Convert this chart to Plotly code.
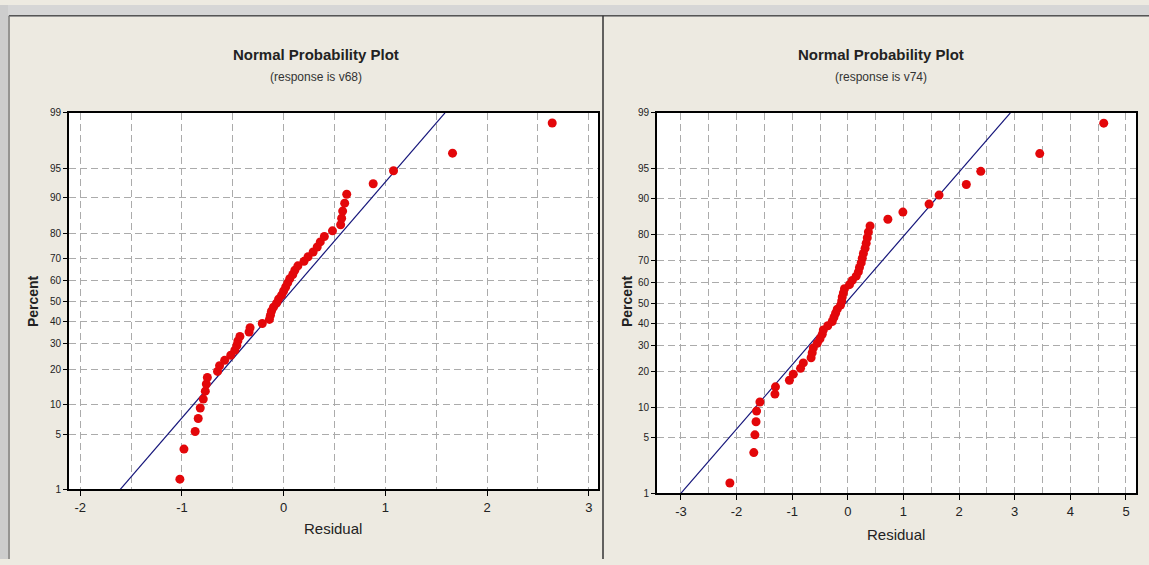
from statistics import NormalDist
import plotly.graph_objects as go

# ---------------- data ----------------
resid_v68 = [-1.02, -0.98, -0.87, -0.84, -0.82, -0.79, -0.77, -0.76, -0.75, -0.65,
             -0.63, -0.58, -0.52, -0.48, -0.46, -0.45, -0.43, -0.34, -0.33, -0.21,
             -0.14, -0.13, -0.12, -0.10, -0.07, -0.05, -0.02, 0.00, 0.02, 0.04,
             0.06, 0.09, 0.11, 0.14, 0.20, 0.24, 0.29, 0.33, 0.36, 0.40,
             0.48, 0.56, 0.57, 0.58, 0.60, 0.62, 0.88, 1.08, 1.66, 2.64]
resid_v74 = [-2.12, -1.69, -1.67, -1.65, -1.64, -1.58, -1.31, -1.30, -1.05, -0.98,
             -0.85, -0.80, -0.66, -0.64, -0.62, -0.55, -0.50, -0.46, -0.44, -0.36,
             -0.28, -0.25, -0.22, -0.19, -0.13, -0.11, -0.10, -0.08, -0.06, 0.03,
             0.08, 0.15, 0.19, 0.21, 0.24, 0.26, 0.28, 0.31, 0.33, 0.35,
             0.37, 0.40, 0.72, 0.99, 1.46, 1.64, 2.13, 2.39, 3.45, 4.60]

# fitted normal line (mean, sd)
fit_v68 = (-0.01, 0.686)
fit_v74 = (-0.04, 1.273)

percent_ticks = [1, 5, 10, 20, 30, 40, 50, 60, 70, 80, 90, 95, 99]
x_ticks_v68 = [-2, -1, 0, 1, 2, 3]
x_ticks_v74 = [-3, -2, -1, 0, 1, 2, 3, 4, 5]

# ---------------- helpers ----------------
N = NormalDist()
def zq(p):
    return N.inv_cdf(p)

def plot_positions(n):
    return [zq((i - 0.3) / (n + 0.4)) for i in range(1, n + 1)]

W, H = 1149, 565
def px(x):
    return x / W
def py(y):
    return 1 - y / H

FONT = "Liberation Sans, Arial, sans-serif"
RED = "#E3070A"
NAVY = "#15157A"
BG = "#EDEAE1"
GRID = "#ABABAB"
DASH = "7px,4px"

fig = go.Figure()

zlo, zhi = zq(0.01), zq(0.99)

panels = [
    dict(res=resid_v68, fit=fit_v68, xa="x", ya="y", xr=[-2.11, 3.09], xt=x_ticks_v68,
         dom_x=[px(69), px(598)], dom_y=[py(494), py(110)]),
    dict(res=resid_v74, fit=fit_v74, xa="x2", ya="y2", xr=[-3.43, 5.18], xt=x_ticks_v74,
         dom_x=[px(657), px(1136)], dom_y=[py(498), py(110)]),
]

for k, p in enumerate(panels):
    zs = plot_positions(len(p["res"]))
    m, s = p["fit"]
    fig.add_trace(go.Scatter(x=[m + s * zlo, m + s * zhi], y=[zlo, zhi], mode="lines",
                             line=dict(color=NAVY, width=1.2), xaxis=p["xa"], yaxis=p["ya"],
                             hoverinfo="skip", showlegend=False))
    fig.add_trace(go.Scatter(x=p["res"], y=zs, mode="markers",
                             marker=dict(color=RED, size=9, line=dict(width=0)),
                             xaxis=p["xa"], yaxis=p["ya"], showlegend=False))
    sfx = "" if k == 0 else str(k + 1)
    fig.layout["xaxis" + sfx] = dict(
        domain=p["dom_x"], range=p["xr"], anchor=p["ya"], tickvals=p["xt"],
        ticktext=[str(v) for v in p["xt"]], ticks="outside", ticklen=5, tickcolor="black",
        showline=True, linecolor="black", linewidth=2, mirror=True,
        showgrid=True, gridcolor=GRID, griddash=DASH, gridwidth=1.4,
        minor=dict(dtick=0.5, tick0=0, showgrid=True, gridcolor=GRID, griddash=DASH,
                   gridwidth=1.4, ticks=""),
        zeroline=False, tickfont=dict(family=FONT, size=13, color="#222"),
    )
    fig.layout["yaxis" + sfx] = dict(
        domain=p["dom_y"], range=[zlo, zhi], anchor=p["xa"],
        tickvals=[zq(v / 100) for v in percent_ticks], ticktext=[str(v) for v in percent_ticks],
        ticks="outside", ticklen=4, tickcolor="black",
        showline=True, linecolor="black", linewidth=2, mirror=True,
        showgrid=True, gridcolor=GRID, griddash=DASH, gridwidth=1.4,
        zeroline=False, tickfont=dict(family=FONT, size=10, color="#222"),
    )

ann = []
for cx, name in [(316, "v68"), (881, "v74")]:
    ann.append(dict(x=px(cx), y=py(50), xref="paper", yref="paper", showarrow=False,
                    xanchor="center", yanchor="middle",
                    text="<b>Normal Probability Plot</b>",
                    font=dict(family=FONT, size=15, color="#222")))
    ann.append(dict(x=px(cx), y=py(73), xref="paper", yref="paper", showarrow=False,
                    xanchor="center", yanchor="middle",
                    text=f"(response is {name})",
                    font=dict(family=FONT, size=12, color="#333")))
for cx, cy in [(333, 534), (896, 540)]:
    ann.append(dict(x=px(cx), y=py(cy), xref="paper", yref="paper", showarrow=False,
                    xanchor="center", yanchor="middle",
                    text="Residual", font=dict(family=FONT, size=15, color="#222")))
for cx in [33, 627]:
    ann.append(dict(x=px(cx), y=py(302), xref="paper", yref="paper", showarrow=False,
                    xanchor="center", yanchor="middle",
                    text="<b>Percent</b>", textangle=-90,
                    font=dict(family=FONT, size=14, color="#222")))

shapes = [
    dict(type="rect", xref="paper", yref="paper", x0=0, x1=1, y0=py(12), y1=1,
         fillcolor="#D6D6D6", line=dict(width=0), layer="below"),
    dict(type="rect", xref="paper", yref="paper", x0=0, x1=px(8), y0=0, y1=1,
         fillcolor="#CDCDCD", line=dict(width=0), layer="below"),
    dict(type="line", xref="paper", yref="paper", x0=px(9), x1=1, y0=py(11), y1=py(11),
         line=dict(color="#555", width=1.5)),
    dict(type="line", xref="paper", yref="paper", x0=px(9), x1=px(9), y0=0, y1=py(11),
         line=dict(color="#777", width=1.5)),
    dict(type="line", xref="paper", yref="paper", x0=px(603), x1=px(603), y0=0, y1=py(11),
         line=dict(color="#333", width=1.5)),
]

fig.update_layout(width=W, height=H, margin=dict(l=0, r=0, t=0, b=0),
                  paper_bgcolor=BG, plot_bgcolor="white", showlegend=False,
                  annotations=ann, shapes=shapes)

fig.write_html("out.html")
